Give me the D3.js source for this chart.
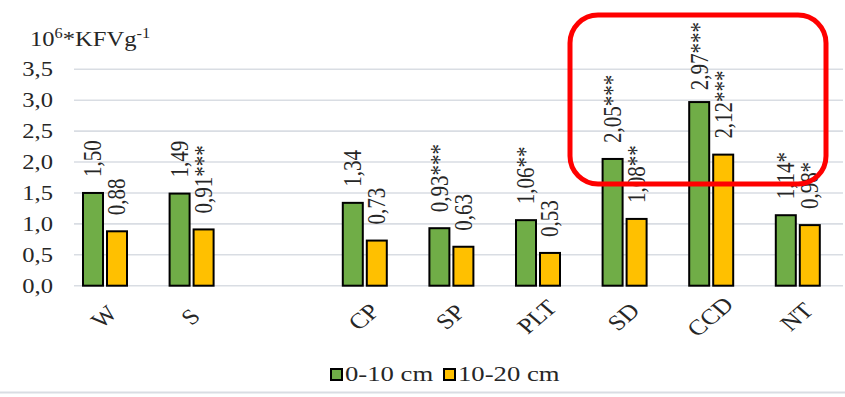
<!DOCTYPE html>
<html>
<head>
<meta charset="utf-8">
<script src="https://cdn.jsdelivr.net/npm/d3@7"></script>
<style>
  html, body { margin: 0; padding: 0; background: #fff; }
  svg { display: block; }
  text { font-family: "Liberation Serif", "Times New Roman", serif; fill: #262626; }
</style>
</head>
<body>
<svg id="chart" width="845" height="397"></svg>
<script>
// Tillage treatments (one empty slot separates the two groups)
const categories = ["W", "S", "", "CP", "SP", "PLT", "SD", "CCD", "NT"];
const seriesNames = ["0-10 cm", "10-20 cm"];
const values0to10 = [1.50, 1.49, null, 1.34, 0.93, 1.06, 2.05, 2.97, 1.14];
const values10to20 = [0.88, 0.91, null, 0.73, 0.63, 0.53, 1.08, 2.12, 0.98];
const marks0to10 = ["", "", "", "", "***", "**", "***", "***", "*"];
const marks10to20 = ["", "***", "", "", "", "", "**", "***", "*"];
const yTicks = [0, 0.5, 1.0, 1.5, 2.0, 2.5, 3.0, 3.5];

const colors = ["#70AD47", "#FFC000"];
const SX = 1.17; // horizontal stretch of the lettering

const svg = d3.select("#chart");
const locale = d3.formatLocale({ decimal: ",", thousands: " ", grouping: [3], currency: ["", ""] });
const fmt1 = locale.format(".1f");
const fmt2 = locale.format(".2f");

const x = d3.scaleBand().domain(categories).range([61.7, 841.1]).paddingInner(0).paddingOuter(0);
const xs = d3.scaleBand().domain(seriesNames).range([-22, 22]).paddingInner(1 / 6).paddingOuter(0);
const y = d3.scaleLinear().domain([0, 3.5]).range([285.7, 69.3]);
const gridX0 = 74, gridX1 = 843;
const labelTopLimit = 22;

// gridlines
svg.append("g").selectAll("line").data(yTicks).join("line")
  .attr("x1", gridX0).attr("x2", gridX1)
  .attr("y1", d => y(d)).attr("y2", d => y(d))
  .attr("stroke", "#D9DDE3").attr("stroke-width", 1.6);

// y tick labels
svg.append("g").selectAll("text").data(yTicks).join("text")
  .attr("transform", d => `translate(53,${y(d)}) scale(${SX},1)`)
  .attr("text-anchor", "end").attr("dy", "0.34em")
  .attr("font-size", 21)
  .text(d => fmt1(d));

// unit title
const title = svg.append("text")
  .attr("transform", `translate(30,46) scale(${SX},1)`)
  .attr("font-size", 21);
title.append("tspan").text("10");
title.append("tspan").attr("font-size", 14).attr("dy", -8).text("6");
title.append("tspan").attr("dy", 8).text("*KFVg");
title.append("tspan").attr("font-size", 14).attr("dy", -8).text("-1");

// bars
const rows = categories.map((c, i) => ({
  cat: c,
  vals: [
    { s: seriesNames[0], v: values0to10[i], m: marks0to10[i], k: 0 },
    { s: seriesNames[1], v: values10to20[i], m: marks10to20[i], k: 1 }
  ]
})).filter(r => r.vals[0].v !== null);

const groups = svg.append("g").selectAll("g").data(rows).join("g")
  .attr("transform", d => `translate(${x(d.cat) + x.bandwidth() / 2},0)`);

groups.selectAll("rect").data(d => d.vals).join("rect")
  .attr("x", d => xs(d.s))
  .attr("width", xs.bandwidth())
  .attr("y", d => y(d.v))
  .attr("height", d => y(0) - y(d.v))
  .attr("fill", d => colors[d.k])
  .attr("stroke", "#000").attr("stroke-width", 2);

// value labels, rotated; kept inside the chart at the top
groups.selectAll("text").data(d => d.vals).join("text")
  .attr("text-anchor", "start")
  .attr("font-size", 21)
  .attr("fill", "#333")
  .text(d => fmt2(d.v) + d.m)
  .each(function (d) {
    const len = this.getComputedTextLength();
    const start = Math.max(y(d.v) - 16, labelTopLimit + len);
    d3.select(this).attr("transform",
      `translate(${xs(d.s) + xs.bandwidth() / 2 + 8.3},${start}) scale(${SX},1) rotate(-90)`);
  });

// category labels
svg.append("g").selectAll("text").data(rows).join("text")
  .attr("transform", d => `translate(${x(d.cat) + x.bandwidth() / 2 + 5},322) scale(${SX},1) rotate(-45)`)
  .attr("text-anchor", "middle")
  .attr("font-size", 22)
  .text(d => d.cat);

// annotation frame
svg.append("rect")
  .attr("x", 570).attr("y", 15).attr("width", 256).attr("height", 169)
  .attr("rx", 28).attr("ry", 28)
  .attr("fill", "none").attr("stroke", "#FF0000").attr("stroke-width", 5);

// legend
const legend = svg.append("g").attr("transform", "translate(330,381)");
const legendPos = [0, 113];
seriesNames.forEach((name, i) => {
  const g = legend.append("g").attr("transform", `translate(${legendPos[i]},0)`);
  g.append("rect").attr("x", 1).attr("y", -12).attr("width", 11).attr("height", 11)
    .attr("fill", colors[i]).attr("stroke", "#000").attr("stroke-width", 2);
  g.append("text").attr("transform", `translate(15,0) scale(1.27,1)`)
    .attr("font-size", 21).text(name);
});

// bottom frame line
svg.append("line").attr("x1", 0).attr("x2", 845).attr("y1", 392.5).attr("y2", 392.5)
  .attr("stroke", "#D9DDE3").attr("stroke-width", 2);
</script>
</body>
</html>
